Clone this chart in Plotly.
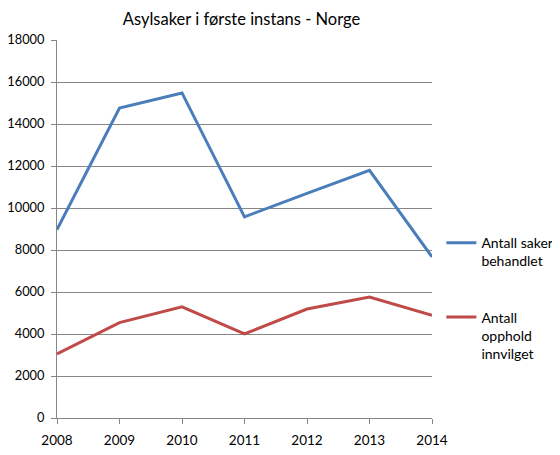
import plotly.graph_objects as go

years = [2008, 2009, 2010, 2011, 2012, 2013, 2014]
saker_behandlet = [8970, 14760, 15480, 9580, 10700, 11790, 7670]
opphold_innvilget = [3050, 4540, 5290, 4000, 5190, 5760, 4890]
y_ticks = [0, 2000, 4000, 6000, 8000, 10000, 12000, 14000, 16000, 18000]

FONT = "Lato"
GRID = "#868686"

fig = go.Figure()
fig.add_trace(go.Scatter(
    x=years, y=saker_behandlet, mode="lines",
    name="Antall saker<br>behandlet", legendgroup="a",
    line=dict(color="#4A7EBB", width=3),
))
fig.add_trace(go.Scatter(
    x=years, y=opphold_innvilget, mode="lines",
    name="Antall<br>opphold<br>innvilget", legendgroup="b",
    line=dict(color="#BE4B48", width=3),
))

# page has an 8px body margin, so the figure is sized 552x447
fig.update_layout(
    width=552, height=447,
    paper_bgcolor="white", plot_bgcolor="white",
    margin=dict(l=49, r=128, t=32, b=37, autoexpand=False),
    font=dict(family=FONT, size=13, color="black"),
    title=dict(text="Asylsaker i første instans - Norge", x=0.423, xanchor="center",
               y=0.975, yanchor="middle", font=dict(family=FONT, size=16.5, color="black")),
    showlegend=True,
    legend=dict(x=1.025, xanchor="left", y=0.505, yanchor="top",
                valign="top", tracegroupgap=35,
                font=dict(family=FONT, size=14, color="black"),
                bgcolor="rgba(0,0,0,0)"),
    xaxis=dict(
        range=[2008, 2014], tickmode="array", tickvals=years,
        ticktext=[str(y) for y in years], automargin=False,
        showgrid=False, showline=True, linecolor=GRID, linewidth=1,
        ticks="outside", ticklen=5, tickcolor=GRID, zeroline=False,
        tickfont=dict(family=FONT, size=13.5),
        ticklabelstandoff=5,
    ),
    yaxis=dict(
        range=[0, 18000], tickmode="array", tickvals=y_ticks,
        ticktext=[str(v) for v in y_ticks], automargin=False,
        showgrid=True, gridcolor=GRID, gridwidth=1,
        showline=True, linecolor=GRID, linewidth=1,
        ticks="outside", ticklen=5, tickcolor=GRID, zeroline=False,
        tickfont=dict(family=FONT, size=12.8),
        ticklabelstandoff=4,
    ),
)

fig.write_html("out.html")
